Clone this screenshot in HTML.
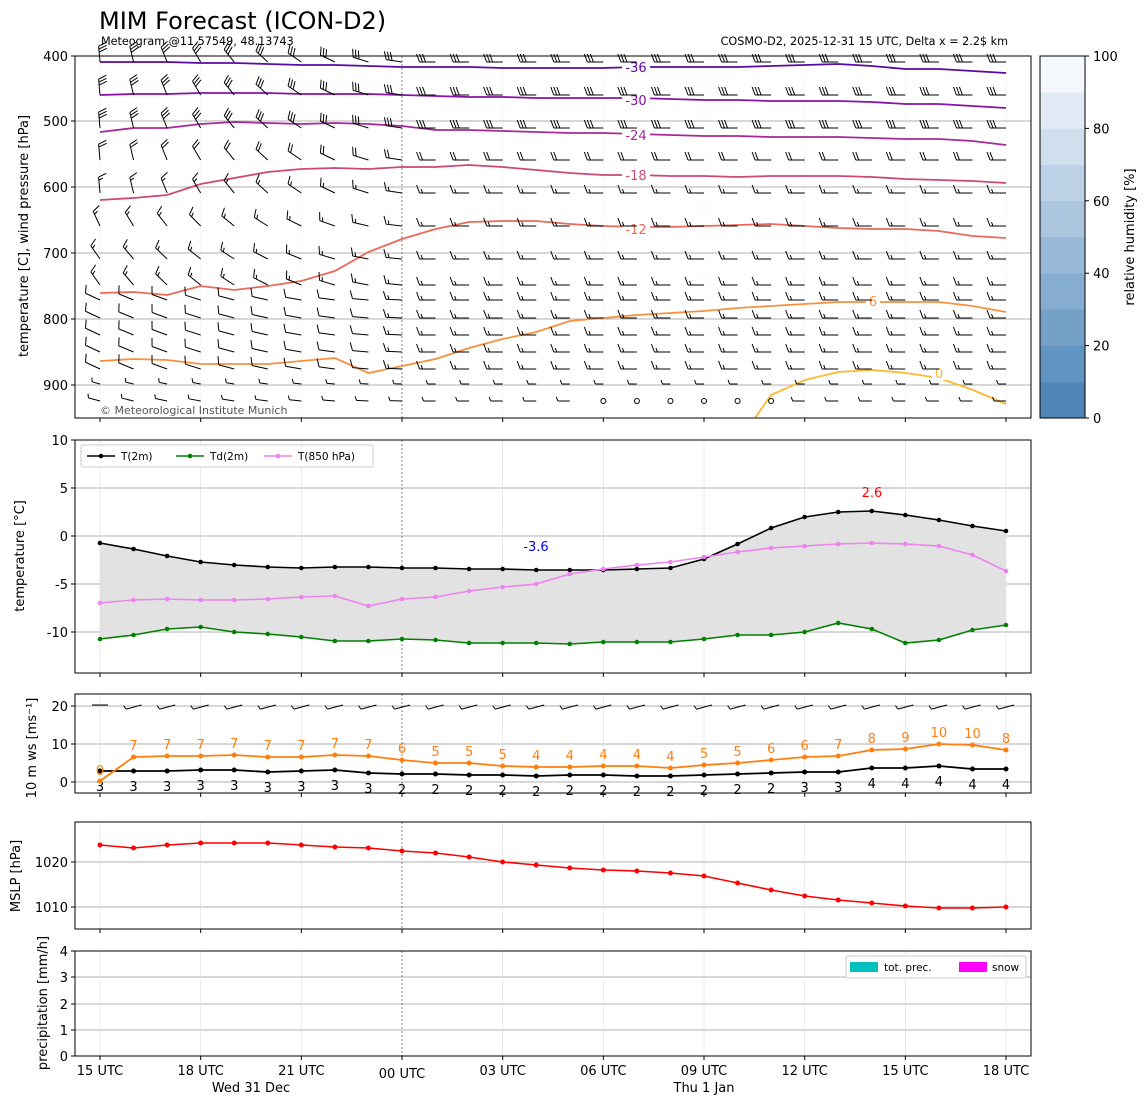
<!DOCTYPE html>
<html><head><meta charset="utf-8"><style>
body{margin:0;background:#fff}
svg{display:block;font-family:"DejaVu Sans","Liberation Sans",sans-serif}
</style></head><body>
<svg id="s" width="1148" height="1105" xmlns="http://www.w3.org/2000/svg">
<rect width="1148" height="1105" fill="#fff"/>
<text x="99" y="29" font-size="24">MIM Forecast (ICON-D2)</text>
<text x="101" y="45" font-size="11.2">Meteogram @11.57549, 48.13743</text>
<text x="1008" y="45" font-size="11.2" text-anchor="end">COSMO-D2, 2025-12-31 15 UTC, Delta x = 2.2$ km</text>
<g id="g"></g>
</svg>
<script>
const NS="http://www.w3.org/2000/svg",G=document.getElementById('g');
function el(t,a,txt){const e=document.createElementNS(NS,t);for(const k in a)e.setAttribute(k,a[k]);if(txt!==undefined)e.textContent=txt;G.appendChild(e);return e;}
const X=i=>100+i*33.556;
function pl(ys,c,w,off){return el('polyline',{points:ys.map((y,i)=>X(i+(off||0))+','+y).join(' '),fill:'none',stroke:c,'stroke-width':w||1.5});}
const panels=[[56,418],[440,673],[694,793],[822,929],[951,1056]];
function hgrid(ys){ys.forEach(y=>el('line',{x1:75,x2:1031,y1:y,y2:y,stroke:'#b0b0b0','stroke-width':1}));}
hgrid([121,187,253,319,385]);hgrid([488,536,584,632]);hgrid([706,744,782]);hgrid([862,907]);hgrid([977,1004,1030]);
panels.forEach(([a,b],pi)=>{
 for(let h=0;h<=27;h+=3){const x=X(h);
  if(h==9)el('line',{x1:x,x2:x,y1:a,y2:b,stroke:'#666','stroke-width':0.8,'stroke-dasharray':'2,2'});
  else el('line',{x1:x,x2:x,y1:a,y2:b,stroke:'#ddd','stroke-width':0.6,'stroke-dasharray':pi==0?'1,2':''});
  el('line',{x1:x,x2:x,y1:b,y2:b+4,stroke:'#000'});}
});
const iso=[
['#5a0aa5',[62,62,62,63,63,64,65,65,66,67,67,67,68,68,68,68,67,67,67,67,66,65,64,66,69,69,71,73],'-36',67],
['#8a10a8',[95,94,94,93,93,93,94,94,94,95,96,97,97,98,98,98,98,99,100,100,101,101,101,102,104,104,106,108],'-30',100],
['#a8289a',[132,128,128,124,122,123,124,123,124,126,130,130,131,132,133,133,134,135,136,136,137,137,137,138,139,139,141,145],'-24',135],
['#cc4878',[200,198,195,184,178,172,169,168,169,167,167,165,167,170,173,175,175,176,176,177,176,176,176,177,179,180,181,183],'-18',175],
['#e86a5a',[293,292,295,286,290,286,281,271,252,239,229,222,221,221,224,226,227,227,226,225,224,226,228,229,229,231,236,238],'-12',229],
['#f7913e',[361,359,360,364,364,364,361,358,373,366,359,348,339,332,321,318,315,313,311,308,306,304,302,302,302,302,306,312],'-6',0]];
iso.forEach(([c,ys])=>pl(ys,c,1.8));
el('polyline',{points:'755,418 771,395 805,380 838,372 872,370 906,373 939,378 973,390 1006,404',fill:'none',stroke:'#fbb830','stroke-width':1.8});
iso.slice(0,5).forEach(([c,ys,l,y])=>{el('rect',{x:622,y:y-8,width:28,height:14,fill:'#fff'});el('text',{x:636,y:y+5,'font-size':13,fill:c,'text-anchor':'middle'},l);});
el('rect',{x:866,y:294,width:14,height:14,fill:'#fff'});el('text',{x:873,y:306,'font-size':13,fill:'#f7913e','text-anchor':'middle'},'6');
el('rect',{x:932,y:366,width:14,height:14,fill:'#fff'});el('text',{x:939,y:378,'font-size':13,fill:'#fbb830','text-anchor':'middle'},'0');
function barb(x,y,ang,L,n,half){const r=ang*Math.PI/180,dx=Math.cos(r),dy=Math.sin(r),bx=-dy,by=dx;
 const tx=x+dx*L,ty=y+dy*L;let d=`M${x},${y}L${tx},${ty}`;
 for(let k=0;k<n;k++){const px=tx-dx*k*3,py=ty-dy*k*3;d+=`M${px},${py}l${(bx*8+dx*3).toFixed(1)},${(by*8+dy*3).toFixed(1)}`;}
 if(half){const px=tx-dx*n*3,py=ty-dy*n*3;d+=`M${px},${py}l${(bx*4+dx*1.5).toFixed(1)},${(by*4+dy*1.5).toFixed(1)}`;}
 el('path',{d:d,stroke:'#000','stroke-width':1,fill:'none'});}
const rows=[62,95,128,160,193,226,259,285,300,318,335,352,369,384,401];
rows.forEach((y,r)=>{for(let c=0;c<28;c++){const x=X(c);const t=Math.min(1,c/10);
 if(r==14&&c>=15&&c<=20){el('circle',{cx:x,cy:y,r:2.5,fill:'none',stroke:'#000'});continue;}
 let a0,n,L=16,half=false;
 if(r<5){a0=265;n=r<3?3:(r<4?2:1);half=r==4;}
 else if(r<8){a0=r<6?245:235;n=1;half=true;}
 else if(r<13){a0=205;n=1;half=c>8;}
 else {a0=195;n=0;half=true;L=r==14?12:8;}
 const ang=a0+(180-a0)*t; barb(x,y,ang,L,n,half);}});
for(let i=0;i<10;i++){const f=i/9;const c=`rgb(${Math.round(79+(244-79)*f)},${Math.round(135+(248-135)*f)},${Math.round(185+(252-185)*f)})`;
 el('rect',{x:1040,y:418-(i+1)*36.2,width:45,height:36.4,fill:c});}
el('rect',{x:1040,y:56,width:45,height:362,fill:'none',stroke:'#000'});
[0,20,40,60,80,100].forEach(v=>{const y=418-v*3.62;el('line',{x1:1085,x2:1089,y1:y,y2:y,stroke:'#000'});el('text',{x:1093,y:y+5,'font-size':13},v);});
el('text',{x:0,y:0,'font-size':13,'text-anchor':'middle',transform:'translate(1134,237) rotate(-90)'},'relative humidity [%]');
const T=[543,549,556,562,565,567,568,567,567,568,568,569,569,570,570,570,569,568,559,544,528,517,512,511,515,520,526,531];
const Td=[639,635,629,627,632,634,637,641,641,639,640,643,643,643,644,642,642,642,639,635,635,632,623,629,643,640,630,625];
const T8=[603,600,599,600,600,599,597,596,606,599,597,591,587,584,574,569,565,562,557,552,548,546,544,543,544,546,555,571];
el('polygon',{points:T.map((y,i)=>X(i)+','+y).concat(Td.map((y,i)=>X(i)+','+y).reverse()).join(' '),fill:'#e2e2e2'});
[[T,'#000'],[Td,'#008000'],[T8,'#ee82ee']].forEach(([ys,c])=>{pl(ys,c,1.6);ys.forEach((y,i)=>el('circle',{cx:X(i),cy:y,r:2.3,fill:c}));});
el('text',{x:536,y:551,'font-size':13,fill:'#00f','text-anchor':'middle'},'-3.6');
el('text',{x:872,y:497,'font-size':13,fill:'#f00','text-anchor':'middle'},'2.6');
el('rect',{x:81,y:445,width:292,height:22,fill:'#fff',stroke:'#ccc',rx:2});
[[87,'#000','T(2m)'],[176,'#008000','Td(2m)'],[264,'#ee82ee','T(850 hPa)']].forEach(([x,c,l])=>{el('line',{x1:x,x2:x+28,y1:456,y2:456,stroke:c,'stroke-width':1.6});el('circle',{cx:x+14,cy:456,r:2.3,fill:c});el('text',{x:x+34,y:460,'font-size':10.5},l);});
for(let c=0;c<28;c++)barb(X(c)+8,705,c==0?180:165,16,0,c>0);
const WS=[781,757,756,756,755,757,757,755,756,760,763,763,766,767,767,766,766,768,765,763,760,757,756,750,749,744,745,750];
const WL=[0,7,7,7,7,7,7,7,7,6,5,5,5,4,4,4,4,4,5,5,6,6,7,8,9,10,10,8];
const WB=[771,771,771,770,770,772,771,770,773,774,774,775,775,776,775,775,776,776,775,774,773,772,772,768,768,766,769,769];
const BL=[3,3,3,3,3,3,3,3,3,2,2,2,2,2,2,2,2,2,2,2,2,3,3,4,4,4,4,4];
pl(WB,'#000',1.8);WB.forEach((y,i)=>{el('circle',{cx:X(i),cy:y,r:2.5,fill:'#000'});el('text',{x:X(i),y:y+20,'font-size':13,'text-anchor':'middle'},BL[i]);});
pl(WS,'#ff7f0e',1.8);WS.forEach((y,i)=>{el('circle',{cx:X(i),cy:y,r:2.5,fill:'#ff7f0e'});el('text',{x:X(i),y:i==0?775:y-7,'font-size':13,fill:'#ff7f0e','text-anchor':'middle'},WL[i]);});
const P=[845,848,845,843,843,843,845,847,848,851,853,857,862,865,868,870,871,873,876,883,890,896,900,903,906,908,908,907];
pl(P,'#f00',1.6);P.forEach((y,i)=>el('circle',{cx:X(i),cy:y,r:2.5,fill:'#f00'}));
el('rect',{x:846,y:956,width:180,height:22,fill:'#fff',stroke:'#ccc',rx:2});
el('rect',{x:850,y:962,width:28,height:10,fill:'#00bfbf'});el('text',{x:884,y:971,'font-size':10.5},'tot. prec.');
el('rect',{x:959,y:962,width:28,height:10,fill:'#f0f'});el('text',{x:992,y:971,'font-size':10.5},'snow');
panels.forEach(([a,b])=>el('rect',{x:75,y:a,width:956,height:b-a,fill:'none',stroke:'#000'}));
function yt(list){list.forEach(([v,y])=>{el('line',{x1:71,x2:75,y1:y,y2:y,stroke:'#000'});el('text',{x:68,y:y+5,'font-size':13,'text-anchor':'end'},v);});}
yt([[400,56],[500,121],[600,187],[700,253],[800,319],[900,385]]);
yt([[10,440],[5,488],[0,536],[-5,584],[-10,632]]);
yt([[20,706],[10,744],[0,782]]);yt([[1020,862],[1010,907]]);
yt([[4,951],[3,977],[2,1004],[1,1030],[0,1056]]);
[['temperature [C], wind pressure [hPa]',28,236],['temperature [°C]',24,556],['10 m ws [ms⁻¹]',36,748],['MSLP [hPa]',20,876],['precipitation [mm/h]',47,1003]].forEach(([t,x,y])=>el('text',{x:0,y:0,'font-size':13,'text-anchor':'middle',transform:`translate(${x},${y}) rotate(-90)`},t));
['15 UTC','18 UTC','21 UTC','00 UTC','03 UTC','06 UTC','09 UTC','12 UTC','15 UTC','18 UTC'].forEach((t,k)=>el('text',{x:X(k*3),y:k==3?1078:1075,'font-size':13,'text-anchor':'middle'},t));
el('text',{x:251,y:1092,'font-size':13,'text-anchor':'middle'},'Wed 31 Dec');
el('text',{x:704,y:1092,'font-size':13,'text-anchor':'middle'},'Thu 1 Jan');
el('text',{x:100,y:414,'font-size':11,fill:'#555'},'© Meteorological Institute Munich');
</script>
</body></html>
